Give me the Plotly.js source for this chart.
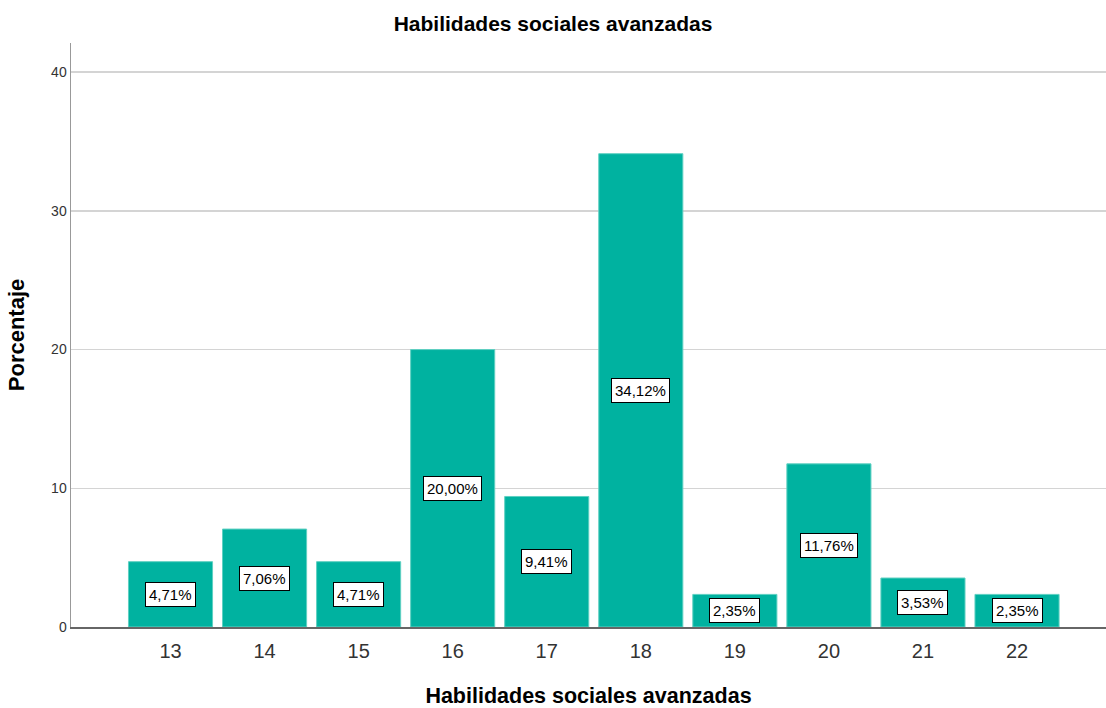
<!DOCTYPE html>
<html>
<head>
<meta charset="utf-8">
<script src="https://cdn.plot.ly/plotly-3.0.1.min.js"></script>
<style>html,body{margin:0;padding:0;background:#fff;}#chart{width:1106px;height:708px;}</style>
</head>
<body>
<div id="chart"></div>
<script>
const categories = [13, 14, 15, 16, 17, 18, 19, 20, 21, 22];
const percentages = [4.71, 7.06, 4.71, 20.00, 9.41, 34.12, 2.35, 11.76, 3.53, 2.35];
const labels = ["4,71%", "7,06%", "4,71%", "20,00%", "9,41%", "34,12%", "2,35%", "11,76%", "3,53%", "2,35%"];
const yTicks = [0, 10, 20, 30, 40];

const FONT = 'Liberation Sans, Arial, sans-serif';

const trace = {
  type: 'bar',
  x: categories,
  y: percentages,
  width: 0.894,
  marker: { color: '#00b2a0', line: { color: '#5fd0c2', width: 1 } },
  hoverinfo: 'none'
};

const annotations = categories.map((c, i) => ({
  x: c, y: percentages[i] / 2, xref: 'x', yref: 'y',
  text: labels[i], showarrow: false,
  font: { family: FONT, size: 15, color: '#000' },
  bgcolor: '#ffffff', bordercolor: '#000000', borderwidth: 1, borderpad: 3
}));

const layout = {
  width: 1106, height: 708,
  margin: { l: 71, r: 0, t: 43, b: 81 },
  paper_bgcolor: '#fff', plot_bgcolor: '#fff',
  showlegend: false,
  title: { text: '<b>Habilidades sociales avanzadas</b>', x: 0.5, xanchor: 'center', y: 0.966, yanchor: 'middle',
    font: { family: FONT, size: 21, color: '#000' } },
  xaxis: {
    range: [11.942, 22.946],
    tickmode: 'array', tickvals: categories, ticktext: categories.map(String),
    tickfont: { family: FONT, size: 20, color: '#333' },
    ticks: '', ticklabelstandoff: 5, showgrid: false, zeroline: false,
    showline: true, linecolor: '#666', linewidth: 1.5,
    title: { text: '<b>Habilidades sociales avanzadas</b>', standoff: 28,
      font: { family: FONT, size: 21.5, color: '#000' } }
  },
  yaxis: {
    range: [0, 42.1],
    tickmode: 'array', tickvals: yTicks, ticktext: yTicks.map(String),
    tickfont: { family: FONT, size: 14, color: '#333' },
    ticks: '', showgrid: true, gridcolor: '#d4d4d4', gridwidth: 1.5, zeroline: false,
    showline: true, linecolor: '#999', linewidth: 1.5,
    title: { text: '<b>Porcentaje</b>', standoff: 20,
      font: { family: FONT, size: 22, color: '#000' } }
  },
  annotations: annotations
};

Plotly.newPlot('chart', [trace], layout, { displayModeBar: false, staticPlot: true });
</script>
</body>
</html>
